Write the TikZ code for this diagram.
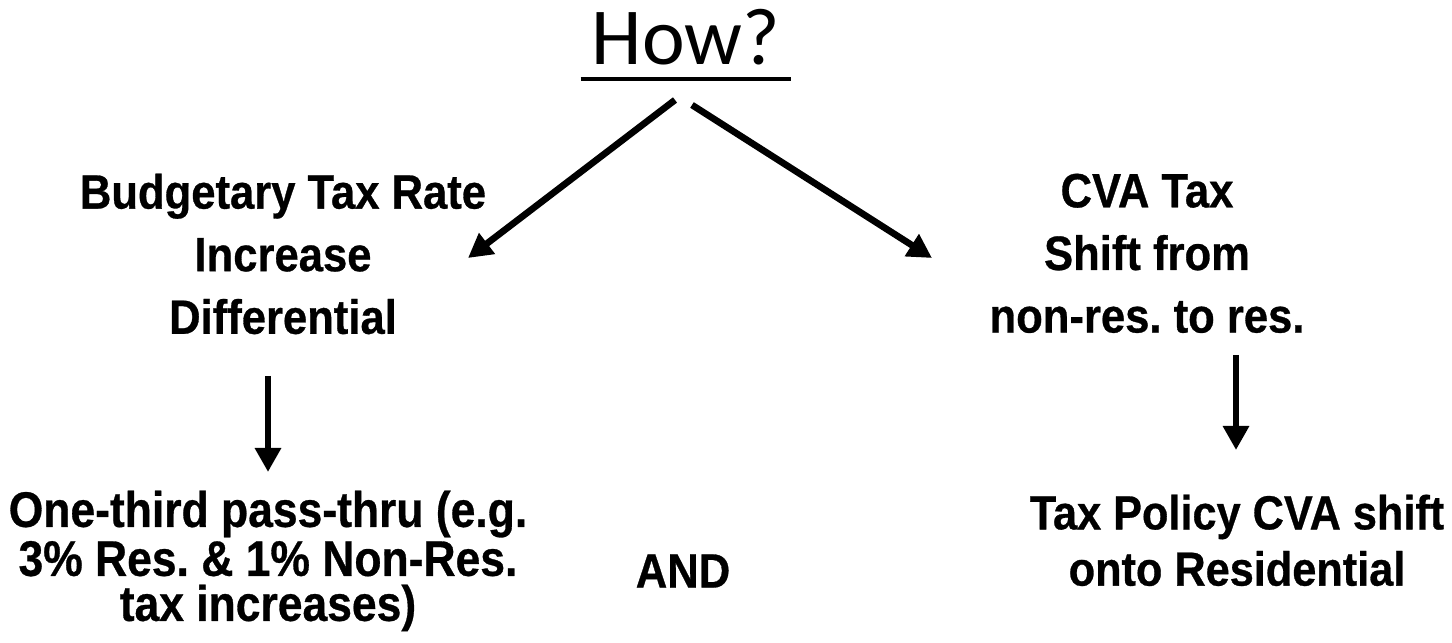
\documentclass[tikz,border=0pt]{standalone}
\usepackage{fontspec}
\frenchspacing
\newfontfamily\titlefont{Carlito}
\newfontfamily\labelfont[FakeStretch=0.905,BoldFeatures={FakeBold=0.6}]{Liberation Sans}
\newfontfamily\passfont[FakeStretch=0.89,BoldFeatures={FakeBold=0.6}]{Liberation Sans}
\usetikzlibrary{arrows.meta,positioning}

\begin{document}
\begin{tikzpicture}[x=0.01cm,y=-0.01cm,
titlelabel/.style={font=\titlefont\fontsize{23}{28}\selectfont,inner xsep=3pt,inner ysep=0pt},
optionlabel/.style={font=\labelfont\bfseries\fontsize{13.7}{17.8}\selectfont,align=center,inner sep=0pt},
resultlabel/.style={font=\passfont\bfseries\fontsize{14.2}{12.8}\selectfont,align=center,inner sep=0pt},
policylabel/.style={font=\labelfont\bfseries\fontsize{13.6}{16}\selectfont,align=center,inner sep=0pt},
arr/.style={-{Triangle[length=2.4mm,width=2.5mm]},line width=1.9pt}]
\useasboundingbox (0,0) rectangle (1452,643);
% heading
\node[titlelabel,anchor=base](how) at (686,65){How?};
\draw[line width=1.2pt]([yshift=-0.14cm]how.base west)--([yshift=-0.14cm]how.base east);
% the two ways
\node[optionlabel,anchor=north](budget) at (283,173){Budgetary Tax Rate\\Increase\\Differential};
\node[optionlabel,anchor=north](cva) at (1147,173){CVA Tax\\Shift from\\non-res. to res.};
\node[resultlabel,anchor=north](pass) at (268,490){One-third pass-thru (e.g.\\3\% Res. \& 1\% Non-Res.\\tax increases)};
\node[optionlabel](and) at (683,571){AND};
\node[policylabel,anchor=north](policy) at (1237,494){Tax Policy CVA shift\\onto Residential};
% arrow ends
\coordinate (lstart) at (675,100);\coordinate (lend) at (468,258);
\coordinate (rstart) at (692,105);\coordinate (rend) at (932,258);
\coordinate (bstart) at (268,376);\coordinate (bend) at (268,472);
\coordinate (cstart) at (1236,355);\coordinate (cend) at (1236,450);
\draw[arr](lstart)--(lend);\draw[arr](rstart)--(rend);
\draw[arr](bstart)--(bend);\draw[arr](cstart)--(cend);
\end{tikzpicture}
\end{document}
